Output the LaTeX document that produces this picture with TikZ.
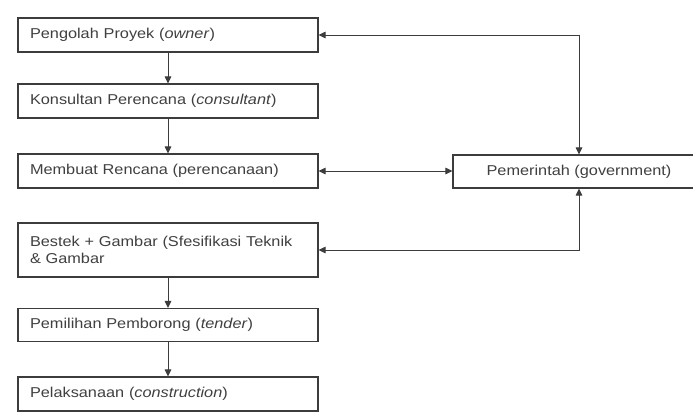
\documentclass[tikz,border=0pt]{standalone}
\usepackage{fontspec}
\setmainfont{Liberation Sans}[FakeStretch=1.14]
\usetikzlibrary{arrows.meta}
\definecolor{linec}{HTML}{3C3C3C}
\definecolor{textc}{HTML}{404040}
\begin{document}
\begin{tikzpicture}[x=1pt,y=-1pt,
  box/.style={draw=linec, line width=1.1pt, text=textc, minimum height=34pt,
    text width=276pt, align=left, inner xsep=12pt, inner ysep=0pt,
    font=\fontsize{14.3}{17}\selectfont},
  govbox/.style={draw=linec, line width=1.1pt, text=textc, minimum height=33pt,
    minimum width=252pt, align=center, inner sep=0pt,
    font=\fontsize{14.3}{17}\selectfont},
  conn/.style={draw=linec, line width=1pt},
  tip/.style={-{Triangle[length=7pt,width=6.5pt]}},
  twotip/.style={{Triangle[length=7pt,width=6.5pt]}-{Triangle[length=7pt,width=6.5pt]}}]
\useasboundingbox (0,0) rectangle (693,413);
\fill[white] (0,0) rectangle (693,413);
\node[box] (b1) at (168,35) {Pengolah Proyek (\textit{owner})};
\node[box] (b2) at (168,101) {Konsultan Perencana (\textit{consultant})};
\node[box] (b3) at (168,171) {Membuat Rencana (perencanaan)};
\node[box, minimum height=54pt] (b4) at (168,250) {Bestek + Gambar (Sfesifikasi Teknik\\ \& Gambar};
\node[box, minimum height=33pt] (b5) at (168,325) {Pemilihan Pemborong (\textit{tender})};
\node[box] (b6) at (168,394) {Pelaksanaan (\textit{construction})};
\node[govbox] (gov) at (579,171.5) {Pemerintah (government)};
\draw[conn,tip] (b1) -- (b2);
\draw[conn,tip] (b2) -- (b3);
\draw[conn,tip] (b4) -- (b5);
\draw[conn,tip] (b5) -- (b6);
\coordinate (c1) at (b1.east -| gov.north);
\coordinate (c2) at (b4.east -| gov.south);
\draw[conn,twotip] (b1.east) -- (c1) -- (gov.north);
\draw[conn,twotip] (b3.east) -- (gov.west |- b3.east);
\draw[conn,twotip] (b4.east) -- (c2) -- (gov.south);
\end{tikzpicture}
\end{document}
